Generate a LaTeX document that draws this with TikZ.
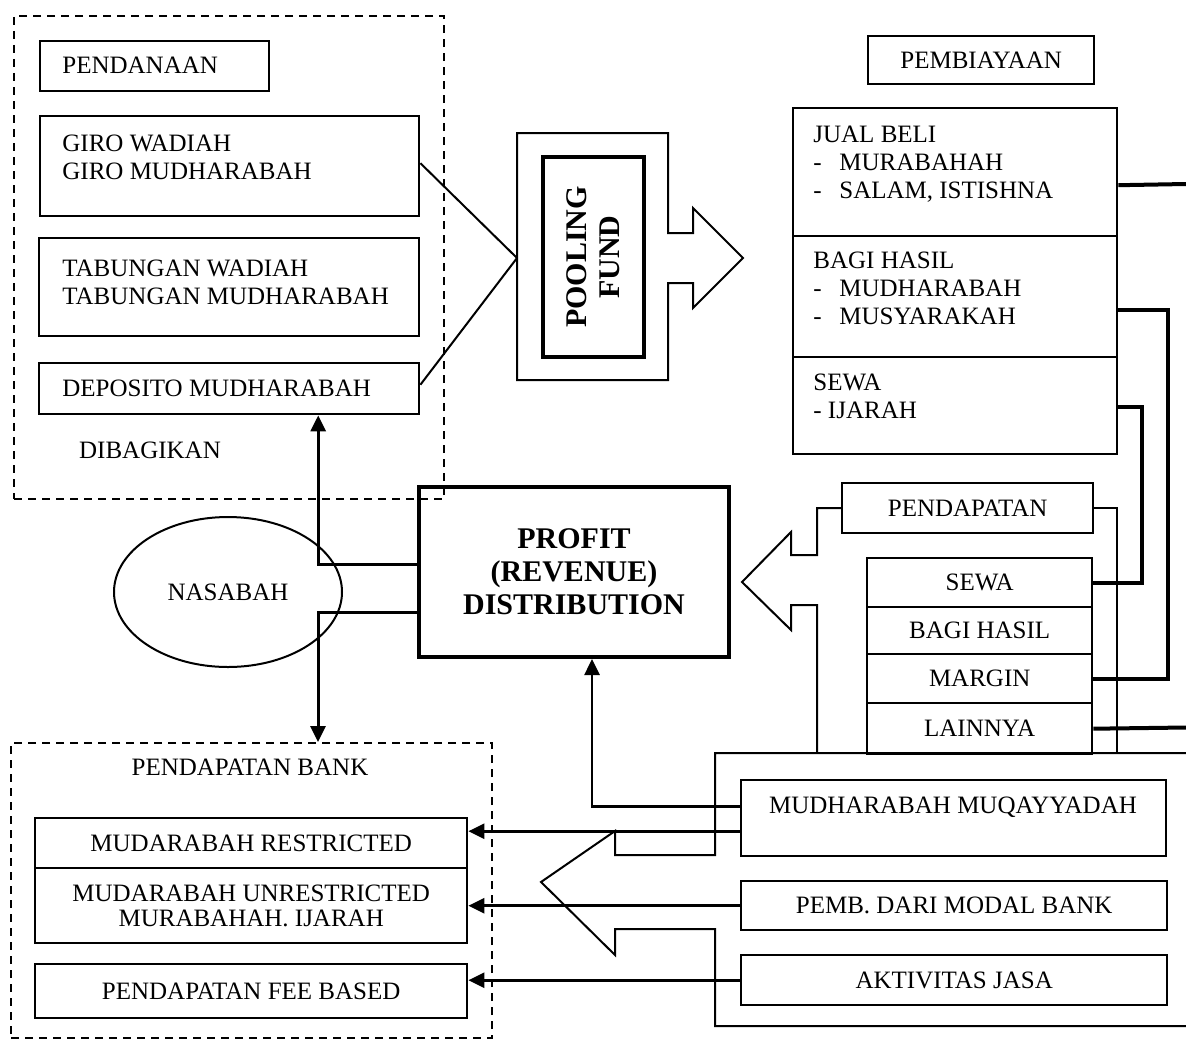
\documentclass[tikz,border=0pt]{standalone}
\usepackage{fontspec}
\setmainfont{Liberation Serif}
\usetikzlibrary{positioning}
\usetikzlibrary{shapes.geometric}
\usetikzlibrary{arrows.meta}

\begin{document}
\begin{tikzpicture}[
x=0.5pt, y=-0.5pt,
font=\fontsize{12.5}{14}\selectfont,
boxsize/.style 2 args={minimum width=#1*0.5pt, minimum height=#2*0.5pt},
plainbox/.style={rectangle, draw, line width=1.2pt, anchor=north west, inner sep=0pt, align=center},
groupbox/.style={rectangle, draw, line width=1pt, dash pattern=on 4pt off 3pt, anchor=north west, inner sep=0pt},
listtext/.style={anchor=north west, inner sep=0pt, align=left},
boldtext/.style={font=\fontsize{15}{16.5}\selectfont\bfseries, align=center},
thinline/.style={line width=1pt},
flowline/.style={line width=2pt},
arrowline/.style={line width=1.3pt, -{Triangle[length=8pt,width=7.5pt]}},
]
\path[use as bounding box, fill=white] (0,0) rectangle (1186,1044);

%Nodes
\node[groupbox, boxsize={430}{483}]		(fundgroup)		at (13,15)		{};
\node[groupbox, boxsize={481}{295}]		(bankgroup)		at (10,742)		{};

\node[plainbox, boxsize={229}{50}]		(pendanaan)		at (39,40)		{};
\node[listtext]							(pendanaantext)	at (62,57)		{PENDANAAN};
\node[plainbox, boxsize={379}{100}]		(giro)			at (39,115)		{};
\node[listtext]							(girotext)		at (62,135)		{GIRO WADIAH\\GIRO MUDHARABAH};
\node[plainbox, boxsize={380}{98}]		(tabungan)		at (38,237)		{};
\node[listtext]							(tabungantext)	at (62,260)		{TABUNGAN WADIAH\\TABUNGAN MUDHARABAH};
\node[plainbox, boxsize={380}{51}]		(deposito)		at (38,362)		{};
\node[listtext]							(depositotext)	at (62,380)		{DEPOSITO MUDHARABAH};
\node									(dibagikan)		at (150,450)	{DIBAGIKAN};

\node[plainbox, anchor=center, rotate=90, line width=1.8pt, boxsize={200}{101}, boldtext]
										(pool)			at (593.5,257)	{POOLING\\FUND};
\coordinate								(poolin)		at (517,258);

\node[plainbox, boxsize={226}{48}]		(pembiayaan)	at (867,35)		{PEMBIAYAAN};
\node[plainbox, boxsize={324}{128}]		(jualbeli)		at (792,107)	{};
\node[listtext]							(jualbelitext)	at (813,126)	{JUAL BELI\\\makebox[13pt][l]{-}MURABAHAH\\\makebox[13pt][l]{-}SALAM, ISTISHNA};
\node[plainbox, boxsize={324}{121}]		(bagihasil)		at (792,235)	{};
\node[listtext]							(bagihasiltext)	at (813,252)	{BAGI HASIL\\\makebox[13pt][l]{-}MUDHARABAH\\\makebox[13pt][l]{-}MUSYARAKAH};
\node[plainbox, boxsize={324}{97}]		(ijarah)		at (792,356)	{};
\node[listtext]							(ijarahtext)	at (813,374)	{SEWA\\- IJARAH};

\node[plainbox, line width=2pt, boxsize={310}{170}, boldtext]
										(profit)		at (417,485)	{PROFIT\\(REVENUE)\\DISTRIBUTION};
\node[ellipse, draw, line width=1pt, minimum width=114pt, minimum height=75pt, inner sep=0pt]
										(nasabah)		at (228,592)	{NASABAH};

\node[plainbox, boxsize={251}{50}]		(pendapatan)	at (841,482)	{PENDAPATAN};
\node[plainbox, boxsize={225}{49}]		(sewa)			at (866,557)	{SEWA};
\node[plainbox, boxsize={225}{47}]		(bagihasilrev)	at (866,606)	{BAGI HASIL};
\node[plainbox, boxsize={225}{49}]		(margin)		at (866,653)	{MARGIN};
\node[plainbox, boxsize={225}{51}]		(lainnya)		at (866,702)	{LAINNYA};

\node[plainbox, boxsize={425}{76}]		(muqayyadah)	at (740,779)	{};
\node									(muqayyadahtext) at (953,807)	{MUDHARABAH MUQAYYADAH};
\node[plainbox, boxsize={426}{49}]		(modalbank)		at (740,880)	{PEMB. DARI MODAL BANK};
\node[plainbox, boxsize={426}{50}]		(jasa)			at (740,954)	{AKTIVITAS JASA};

\node									(banktitle)		at (250,767)	{PENDAPATAN BANK};
\node[plainbox, boxsize={432}{50}]		(restricted)	at (34,817)		{MUDARABAH RESTRICTED};
\node[plainbox, boxsize={432}{75}, font=\fontsize{12.5}{12.5}\selectfont]
										(unrestricted)	at (34,867)		{MUDARABAH UNRESTRICTED\\MURABAHAH. IJARAH};
\node[plainbox, boxsize={432}{54}]		(feebased)		at (34,963)		{PENDAPATAN FEE BASED};

\coordinate								(edgejual)		at (1186,184);
\coordinate								(edgelain)		at (1186,727.5);

%Lines
\draw[thinline] (517,133) -- (668,133) -- (668,233) -- (693,233) -- (693,208) -- (743,258) -- (693,308) -- (693,283) -- (668,283) -- (668,380) -- (517,380) -- cycle;
\draw[thinline] ([yshift=1.5pt]giro.east) -- (poolin);
\draw[thinline] ([yshift=2pt]deposito.east) -- (poolin);

\draw[flowline] ([yshift=-6.5pt]jualbeli.east) -- (edgejual);
\draw[flowline] ([yshift=-6.75pt]bagihasil.east) -- ++(25pt,0) |- (margin.east);
\draw[flowline] ([yshift=-0.75pt]ijarah.east) -- ++(12pt,0) |- (sewa.east);
\draw[flowline] (lainnya.east) -- (edgelain);

%Big arrows
\draw[thinline] (pendapatan.west) -| (817,555) -- (791,555) -- (791,532) -- (742,582) -- (791,630) -- (791,605) -- (817,605) -- (817,753);
\draw[thinline] (pendapatan.east) -| (1117,753);
\draw[thinline] (1186,753) -- (715,753) -- (715,855) -- (615,855) -- (615,831) -- (541,882) -- (615,955) -- (615,929) -- (715,929) -- (715,1026) -- (1186,1026);

%Arrows
\draw[arrowline] ([yshift=6pt]muqayyadah.west) -| ([xshift=9pt]profit.south);
\draw[arrowline] ([yshift=-6.5pt]muqayyadah.west) coordinate (restrictedfrom) -- (restrictedfrom -| restricted.east);
\draw[arrowline] (modalbank.west) -- (modalbank.west -| unrestricted.east);
\draw[arrowline] (jasa.west) -- (jasa.west -| feebased.east);
\draw[arrowline, line width=1.5pt] ([yshift=4pt]profit.west) -| ([xshift=44.5pt]deposito.south);
\draw[arrowline, line width=1.5pt] ([yshift=-20pt]profit.west) -| ([xshift=33.25pt]bankgroup.north);
\end{tikzpicture}
\end{document}
